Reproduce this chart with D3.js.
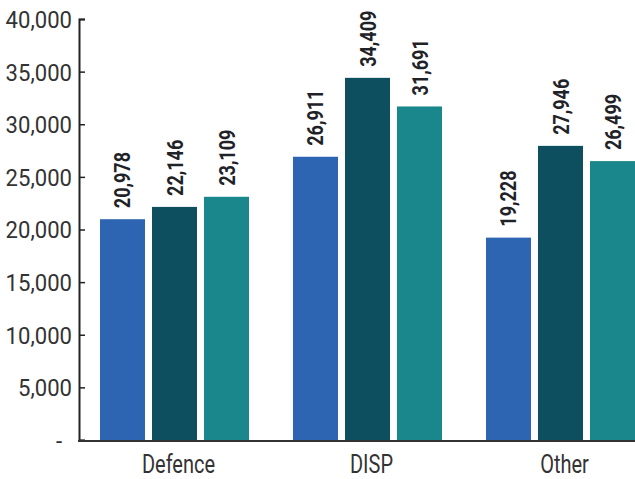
<!DOCTYPE html>
<html>
<head>
<meta charset="utf-8">
<script src="https://cdn.jsdelivr.net/npm/d3@7"></script>
<style>
  html, body { margin: 0; padding: 0; background: #fff; }
  svg { display: block; }
  .tick-label { font-family: "Roboto", sans-serif; font-size: 24px; fill: #333; }
  .cat-label { font-family: "Roboto", sans-serif; font-size: 25px; fill: #333; }
  .val-label { font-family: "Roboto", sans-serif; font-size: 22px; font-weight: bold; fill: #1f2328; }
</style>
</head>
<body>
<svg id="chart" width="635" height="479"></svg>
<script>
// Categories and the three series drawn in each group
const categories = ["Defence", "DISP", "Other"];
const seriesA = [20978, 26911, 19228];
const seriesB = [22146, 34409, 27946];
const seriesC = [23109, 31691, 26499];
const yTicks = [0, 5000, 10000, 15000, 20000, 25000, 30000, 35000, 40000];
const seriesColors = ["#2D65B2", "#0E4F5F", "#1A878D"];

const svg = d3.select("#chart");
const width = 635;
const axisX = 79, yTop = 19, yBase = 440;

// Condense a text selection horizontally by a factor, keeping its anchor
function condense(sel, factor) {
  sel.each(function () {
    const w = this.getComputedTextLength();
    d3.select(this).attr("textLength", w * factor).attr("lengthAdjust", "spacingAndGlyphs");
  });
}

const y = d3.scaleLinear().domain([0, 40000]).range([yBase, yTop]);
const x = d3.scaleBand().domain(categories).range([78, 657]);
const xInner = d3.scaleBand().domain([0, 1, 2]).range([0, x.bandwidth()])
  .paddingInner(0.1346).paddingOuter(0.423);

const series = [seriesA, seriesB, seriesC];
const rows = [];
categories.forEach((c, i) => series.forEach((s, k) => rows.push({ cat: c, k, v: s[i] })));

// Bars
svg.append("g").selectAll("rect").data(rows).join("rect")
  .attr("x", d => x(d.cat) + xInner(d.k))
  .attr("y", d => y(d.v))
  .attr("width", xInner.bandwidth())
  .attr("height", d => yBase - y(d.v))
  .attr("fill", d => seriesColors[d.k]);

// Value labels, rotated above each bar
const fmt = d3.format(",");
svg.append("g").selectAll("text").data(rows).join("text")
  .attr("class", "val-label")
  .attr("transform", d => `translate(${x(d.cat) + xInner(d.k) + xInner.bandwidth() / 2 + 8},${y(d.v) - 11}) rotate(-90)`)
  .attr("text-anchor", "start")
  .text(d => fmt(d.v))
  .call(condense, 0.82);

// Y axis
const yAxis = d3.axisLeft(y).tickValues(yTicks).tickSize(-6).tickPadding(7)
  .tickFormat(d => d === 0 ? "-" : fmt(d));
const gy = svg.append("g").attr("transform", `translate(${axisX},0)`).call(yAxis);
gy.attr("font-family", null).attr("font-size", null);
gy.select(".domain").attr("stroke", "#222").attr("stroke-width", 2);
gy.selectAll(".tick line").attr("stroke", "#222").attr("stroke-width", 1.5);
gy.selectAll(".tick text").attr("class", "tick-label").attr("dy", "0.35em")
  .attr("x", d => d === 0 ? -17 : -7).attr("fill", null)
  .call(condense, 0.92);

// Baseline
svg.append("line").attr("x1", axisX - 1).attr("x2", width).attr("y1", yBase + 1).attr("y2", yBase + 1)
  .attr("stroke", "#333").attr("stroke-width", 2);

// Category labels
svg.append("g").selectAll("text").data(categories).join("text")
  .attr("class", "cat-label")
  .attr("x", d => x(d) + x.bandwidth() / 2 + 4)
  .attr("y", 473)
  .attr("text-anchor", "middle")
  .text(d => d)
  .call(condense, 0.8);
</script>
</body>
</html>
